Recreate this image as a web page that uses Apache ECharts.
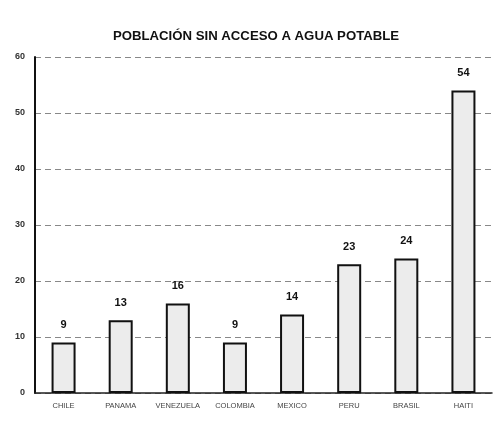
<!DOCTYPE html>
<html>
<head>
<meta charset="utf-8">
<script src="https://cdn.jsdelivr.net/npm/echarts@6/dist/echarts.min.js"></script>
<style>
  html, body { margin: 0; padding: 0; background: #ffffff; }
  #chart { width: 496px; height: 422px; }
</style>
</head>
<body>
<div id="chart"></div>
<script>
// Countries and share of population without drinking water (%)
var paises = ['CHILE', 'PANAMA', 'VENEZUELA', 'COLOMBIA', 'MEXICO', 'PERU', 'BRASIL', 'HAITI'];
var sinAgua = [9, 13, 16, 9, 14, 23, 24, 54];
var ticksY = [0, 10, 20, 30, 40, 50, 60];

var chart = echarts.init(document.getElementById('chart'));
chart.setOption({
  backgroundColor: '#ffffff',
  animation: false,
  title: {
    text: 'POBLACIÓN SIN ACCESO A AGUA POTABLE',
    left: 251,
    textAlign: 'center',
    top: 25,
    textStyle: { fontFamily: 'Liberation Sans', fontWeight: 'bold', fontSize: 13.2, color: '#111' }
  },
  grid: { left: 35, right: 4, top: 57, bottom: 29 },
  xAxis: {
    type: 'category',
    data: paises,
    axisLine: { lineStyle: { color: '#222', width: 1.5 } },
    axisTick: { show: false },
    axisLabel: { fontFamily: 'Liberation Sans', fontSize: 7.5, color: '#444', margin: 9, interval: 0 }
  },
  yAxis: {
    type: 'value',
    min: ticksY[0],
    max: ticksY[ticksY.length - 1],
    interval: 10,
    axisLine: { show: true, lineStyle: { color: '#111', width: 2 } },
    axisTick: { show: false },
    axisLabel: { fontFamily: 'Liberation Sans', fontWeight: 'bold', fontSize: 9, color: '#333', margin: 10 },
    splitLine: { show: true, lineStyle: { color: '#888', type: [6, 4], width: 1 } }
  },
  series: [{
    type: 'bar',
    data: sinAgua,
    barWidth: 24,
    itemStyle: { color: '#ececec', borderColor: '#111', borderWidth: 2 },
    label: {
      show: true,
      position: 'top',
      distance: 12,
      fontFamily: 'Liberation Sans',
      fontWeight: 'bold',
      fontSize: 11,
      color: '#111'
    }
  }]
});
</script>
</body>
</html>
